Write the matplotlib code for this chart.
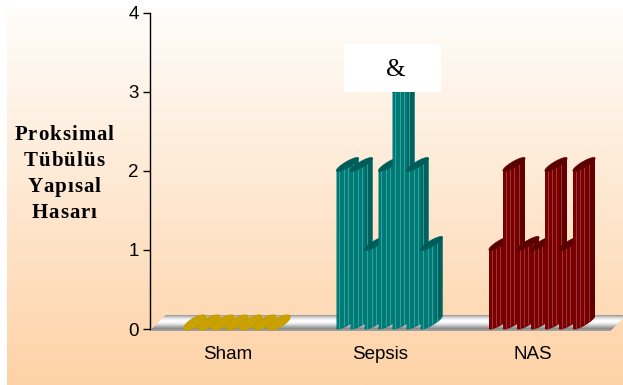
import numpy as np
import matplotlib
matplotlib.use("Agg")
import matplotlib.pyplot as plt
from matplotlib.patches import Polygon, Rectangle
from matplotlib.colors import LinearSegmentedColormap
from matplotlib.font_manager import FontProperties

# ---- data ----
groups = ["Sham", "Sepsis", "NAS"]
sham = [0, 0, 0, 0, 0, 0, 0]
sepsis = [2, 2, 1, 2, 3, 2, 1]
nas = [1, 2, 1, 1, 2, 1, 2]
yticks = [0, 1, 2, 3, 4]
ylabel_lines = ["Proksimal", "Tübülüs", "Yapısal", "Hasarı"]
mark_text = "&"
mark_group = 1
mark_index = 4

W, H, DPI = 623, 385, 100
PX_X, PX_Y = 152.5, 79.0          # pixels per data unit on x and y

fig = plt.figure(figsize=(W / DPI, H / DPI), dpi=DPI)
fig.patch.set_facecolor("white")

# peach gradient panel behind the chart
bg = fig.add_axes([7 / W, 0, 1 - 7 / W, (H - 8) / H], zorder=0)
grad = np.linspace(0, 1, 256)[:, None]
bg.imshow(grad, aspect="auto", origin="upper", extent=[0, 1, 0, 1],
          cmap=LinearSegmentedColormap.from_list("bg", ["#FFFDFB", "#FED2A6"]))
bg.axis("off")

ax = fig.add_axes([150 / W, 56 / H, 462 / W, 316 / H], zorder=1)
ax.patch.set_alpha(0)
xmin, xmax = -78 / PX_X, (462 - 78) / PX_X

# floor slab: slanted bands shaded like a grey cylinder
floor_cmap = LinearSegmentedColormap.from_list(
    "floor", ["#9c9c9c", "#dedede", "#ffffff", "#f2f2f2", "#bdbdbd", "#8c8c8c", "#a8a8a8"])
slab_len, slant, y_lo, y_hi = 460, 16, -2, 14
nb = 32
for k in range(nb):
    a, b = k / nb, (k + 1) / nb
    ya, yb = y_lo + (y_hi - y_lo) * a, y_lo + (y_hi - y_lo) * b
    xa, xb = slant * a, slant * b
    band = [(xmin + xa / PX_X, ya / PX_Y), (xmin + (xa + slab_len) / PX_X, ya / PX_Y),
            (xmin + (xb + slab_len) / PX_X, yb / PX_Y), (xmin + xb / PX_X, yb / PX_Y)]
    ax.add_patch(Polygon(band, closed=True, facecolor=floor_cmap(1 - (a + b) / 2),
                         edgecolor="none", lw=0, zorder=2, clip_on=False,
                         antialiased=False))

# cylinder geometry (pixel sizes converted to data units)
STEP = 14 / PX_X
BW = 22 / PX_X
RISE = 13 / PX_Y
MAJ = np.array([11 / PX_X, 6.5 / PX_Y])
T = np.linspace(0, 2 * np.pi, 72)


def ellipse(left, y, thick):
    minor = np.array([-6.5, 11.0]) / np.hypot(6.5, 11.0) * thick
    minor = minor / np.array([PX_X, PX_Y])
    c = np.array([left + BW / 2, y + RISE / 2])
    return c + np.outer(np.cos(T), MAJ) + np.outer(np.sin(T), minor)


def cylinder(left, val, body, shade, light, top, z, thick):
    ax.add_patch(Polygon(ellipse(left, 0, thick), closed=True, facecolor=body,
                         edgecolor="none", zorder=z, clip_on=False))
    if val > 0:
        ax.add_patch(Polygon([(left, 0), (left + BW, RISE), (left + BW, val + RISE),
                              (left, val)], closed=True, facecolor=body,
                             edgecolor="none", zorder=z, clip_on=False))
        f = 0.68
        ax.add_patch(Polygon([(left + f * BW, f * RISE), (left + BW, RISE),
                              (left + BW, val + RISE), (left + f * BW, val + f * RISE)],
                             closed=True, facecolor=shade, edgecolor="none",
                             zorder=z, clip_on=False))
        for off in (2.5, 7, 11, 16):
            fx = off / 22
            ax.plot([left + fx * BW, left + fx * BW],
                    [fx * RISE - 0.02, val + fx * RISE],
                    color=light, lw=0.6, zorder=z, clip_on=False,
                    solid_capstyle="butt")
    ax.add_patch(Polygon(ellipse(left, val, thick), closed=True, facecolor=top,
                         edgecolor=shade, lw=0.5, zorder=z, clip_on=False))


styles = [
    dict(body="#C9A100", shade="#C09A00", light="#D9B530", top="#C9A100", thick=4.6),
    dict(body="#007A77", shade="#00625F", light="#3FA8A2", top="#005C59", thick=3.0),
    dict(body="#790000", shade="#620000", light="#A84040", top="#5A0000", thick=3.0),
]
series = [sham, sepsis, nas]

z = 3.0
for g, (vals, st) in enumerate(zip(series, styles)):
    n = len(vals)
    for i, v in enumerate(vals):
        left = g + (i - (n - 1) / 2) * STEP - 2 / PX_X
        cylinder(left, v, st["body"], st["shade"], st["light"], st["top"], z, st["thick"])
        z += 0.01

# annotation box above the tallest Sepsis bar
mx = mark_group + (mark_index - 3) * STEP - 2 / PX_X + BW / 2
ax.add_patch(Rectangle((mx - 60 / PX_X, sepsis[mark_index]), 97 / PX_X, 48 / PX_Y,
                       facecolor="white", edgecolor="none", zorder=10, clip_on=False))
ax.text(mx - 8 / PX_X, sepsis[mark_index] + 21.5 / PX_Y, mark_text,
        ha="center", va="center", fontsize=18, family="Liberation Serif", zorder=11)

ax.set_xlim(xmin, xmax)
ax.set_ylim(0, 4)
for s in ("top", "right", "bottom"):
    ax.spines[s].set_visible(False)
ax.spines["left"].set_color("black")
ax.spines["left"].set_linewidth(1)
ax.set_yticks(yticks)
ax.set_yticklabels([str(t) for t in yticks], family="Liberation Sans", fontsize=13.5)
ax.tick_params(axis="y", direction="out", length=5, width=1, pad=3, colors="black")
ax.set_xticks(range(len(groups)))
ax.set_xticklabels(groups, family="Liberation Sans", fontsize=13.5)
ax.tick_params(axis="x", length=0, pad=12)

# letter-spaced axis title, stacked on four lines
fp = FontProperties(family="Liberation Serif", weight="bold", size=15)
renderer = fig.canvas.get_renderer()
spacing = 1.0
cx = 64
for line, base in zip(ylabel_lines, [140, 166, 192, 218]):
    widths = [renderer.get_text_width_height_descent(ch, fp, ismath=False)[0] for ch in line]
    total = sum(widths) + spacing * (len(line) - 1)
    x = cx - total / 2
    for ch, w in zip(line, widths):
        fig.text(x / W, 1 - base / H, ch, fontproperties=fp, ha="left", va="baseline")
        x += w + spacing

fig.savefig("out.png", dpi=DPI)
